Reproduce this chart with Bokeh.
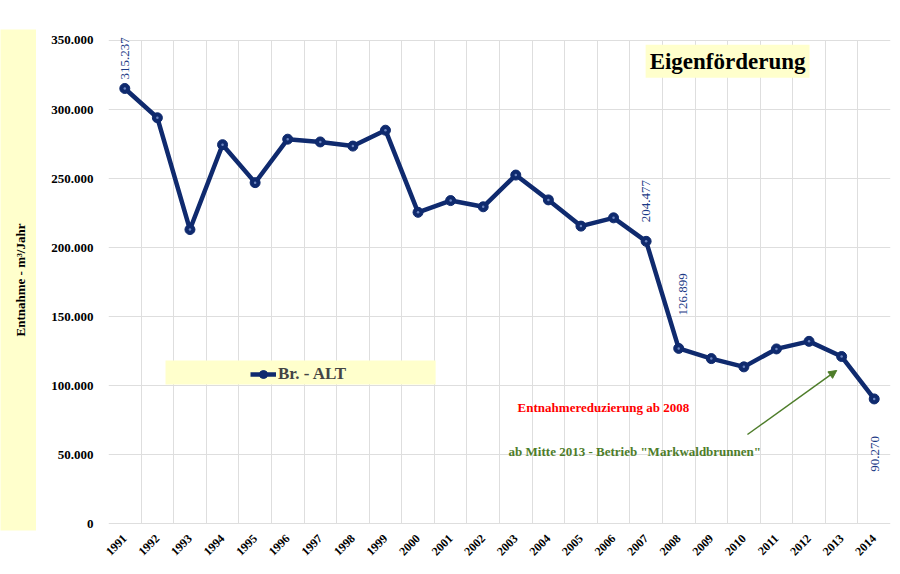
from math import pi
from bokeh.plotting import figure
from bokeh.layouts import row
from bokeh.models import (Range1d, FixedTicker, Label, BoxAnnotation, Arrow, NormalHead, Legend, LegendItem)
from bokeh.embed import file_html
from bokeh.resources import INLINE

years = ["1991", "1992", "1993", "1994", "1995", "1996", "1997", "1998", "1999", "2000",
         "2001", "2002", "2003", "2004", "2005", "2006", "2007", "2008", "2009", "2010",
         "2011", "2012", "2013", "2014"]
entnahme = [315237, 294000, 213000, 274500, 247000, 278500, 276500, 273500, 285000, 225500,
            234000, 229500, 252500, 234500, 215500, 221500, 204477, 126899, 119500, 113500,
            126500, 132000, 121000, 90270]
labelled_years = ["1991", "2007", "2008", "2014"]
y_ticks = [0, 50000, 100000, 150000, 200000, 250000, 300000, 350000]

NAVY = "#0f2a6e"
LBL = "#1c3a86"
GREEN = "#4e7d2a"
YEL = "#ffffcc"
FONT = "Liberation Serif"

xs = [i + 0.5 for i in range(len(years))]

# narrow panel with the y-axis title on a yellow band
side = figure(width=36, height=566, output_backend="svg", toolbar_location=None,
              x_range=Range1d(0, 1), y_range=Range1d(0, 1),
              min_border_left=0, min_border_right=0, min_border_top=29, min_border_bottom=36,
              background_fill_color=YEL)
side.outline_line_color = None
side.axis.visible = False
side.grid.visible = False
side.add_layout(Label(x=0.55, y=0.5, text="Entnahme - m³/Jahr", angle=pi / 2,
                      text_align="center", text_baseline="middle", text_font=FONT,
                      text_font_style="bold", text_font_size="13px", text_color="black"))

p = figure(width=856, height=566, output_backend="svg", toolbar_location=None,
           x_range=Range1d(0, len(years)), y_range=Range1d(-5072, 357971),
           min_border_left=72, min_border_right=2, min_border_top=29, min_border_bottom=36)
p.outline_line_color = None

# grid
p.xgrid.ticker = FixedTicker(ticks=list(range(len(years) + 1)))
p.ygrid.ticker = FixedTicker(ticks=y_ticks)
xg = p.xgrid[0]
if "cross_bounds" in xg.properties():
    xg.cross_bounds = (0, 350000)
yg = p.ygrid[0]
if "cross_bounds" in yg.properties():
    yg.cross_bounds = (0, len(years))
for g in (p.xgrid, p.ygrid):
    g.grid_line_color = "#dedede"
    g.grid_line_width = 1

# axes
p.xaxis.ticker = FixedTicker(ticks=xs)
p.xaxis.major_label_overrides = {x: y for x, y in zip(xs, years)}
p.xaxis.major_label_orientation = pi / 4
p.yaxis.ticker = FixedTicker(ticks=y_ticks)
p.yaxis.major_label_overrides = {t: (f"{t:,}".replace(",", ".") if t else "0") for t in y_ticks}
for ax in (p.xaxis, p.yaxis):
    ax.axis_line_color = None
    ax.major_tick_line_color = None
    ax.minor_tick_line_color = None
    ax.major_label_text_font = FONT
    ax.major_label_text_font_style = "bold"
    ax.major_label_text_color = "black"
p.xaxis.major_label_text_font_size = "12px"
p.yaxis.major_label_text_font_size = "13px"
p.xaxis.major_label_standoff = 0
p.yaxis.major_label_standoff = 9

# legend background box
lbox = BoxAnnotation(left=1.75, right=10.04, bottom=100700, top=118100,
                     fill_color=YEL, fill_alpha=1, line_color=None, level="underlay")
p.add_layout(lbox)

# series
r_line = p.line(xs, entnahme, line_color=NAVY, line_width=4.5)
r_pts = p.scatter(xs, entnahme, size=10, fill_color=NAVY, line_color=NAVY)
p.scatter(xs, entnahme, size=2.5, fill_color="#6d86c0", line_color=None)

legend = Legend(items=[LegendItem(label="Br. - ALT", renderers=[r_line, r_pts])],
                location=(142, 146), background_fill_alpha=0, border_line_color=None,
                padding=2, margin=0, glyph_width=26, glyph_height=20, label_standoff=2,
                label_text_font=FONT, label_text_font_style="bold", label_text_font_size="17px")
p.add_layout(legend, "center")

# value labels
offsets = {"1991": (0, 9, "left"), "2007": (0, 19, "left"), "2008": (4, 33, "left"), "2014": (1, -37, "right")}
for yr in labelled_years:
    i = years.index(yr)
    dx, dy, al = offsets[yr]
    p.add_layout(Label(x=xs[i], y=entnahme[i], x_offset=dx, y_offset=dy,
                       text=f"{entnahme[i]:,}".replace(",", "."), angle=pi / 2,
                       text_align=al, text_baseline="middle", text_font=FONT,
                       text_font_size="13px", text_color=LBL))

# title box
p.add_layout(Label(x=19.0, y=335000, text="Eigenförderung", text_align="center", text_baseline="middle",
                   text_font=FONT, text_font_style="bold", text_font_size="23px", text_color="black",
                   background_fill_color=YEL, padding=4))

# annotations
p.add_layout(Label(x=15.19, y=84100, text="Entnahmereduzierung ab 2008", text_align="center",
                   text_baseline="middle", text_font=FONT, text_font_style="bold",
                   text_font_size="13px", text_color="#ff0000"))
p.add_layout(Label(x=12.28, y=52200, text='ab Mitte 2013 - Betrieb "Markwaldbrunnen"', text_align="left",
                   text_baseline="middle", text_font=FONT, text_font_style="bold",
                   text_font_size="13px", text_color=GREEN))
p.add_layout(Arrow(end=NormalHead(size=8, fill_color=GREEN, line_color=GREEN),
                   x_start=19.61, y_start=64500, x_end=22.35, y_end=110900,
                   line_color=GREEN, line_width=1.5))

layout = row(side, p, spacing=0)
open("out.html", "w").write(file_html(layout, INLINE))
